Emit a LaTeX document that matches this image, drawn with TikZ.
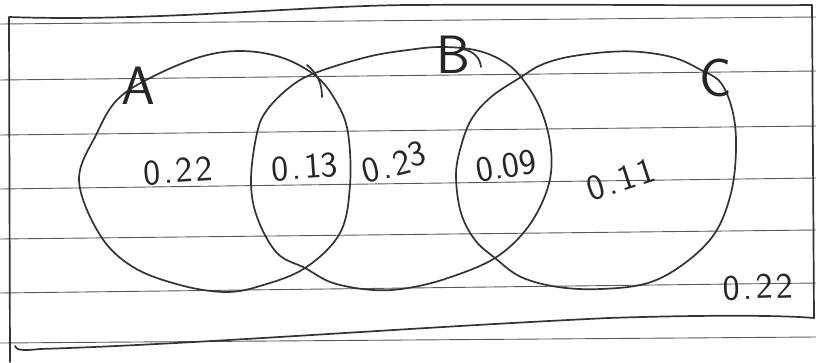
\documentclass[tikz,border=0pt]{standalone}
\newcommand{\gp}{\kern3pt}
\begin{document}
\begin{tikzpicture}[x=1pt,y=-1pt,
  ink/.style={draw=black!80,line width=1.7pt,line cap=round,line join=round},
  rule/.style={draw=black!65,line width=0.9pt},
  val/.style={font=\sffamily\fontsize{36}{36}\selectfont,text=black!85,inner sep=0pt},
  lett/.style={font=\sffamily\fontsize{54}{54}\selectfont,text=black!85,inner sep=0pt}]
\useasboundingbox (0,0) rectangle (816,362);
\fill[white] (0,0) rectangle (816,362);
% ruled lines
\foreach \a/\b in {24/17,80/71,135/126,189/178,239/230,293/283,343/337}
  \draw[rule] (0,\a) -- (816,\b);
% hand drawn frame
\draw[ink] (10,362) -- (9,17) .. controls (150,22) and (300,6) .. (408,5) .. controls (600,4) and (700,6) .. (812,5) -- (814,318);
\draw[ink] (15,346) .. controls (16,350) and (22,351) .. (40,349) .. controls (200,344) and (400,328) .. (608,318) .. controls (700,315) and (780,315) .. (814,318);
% set A
\draw[ink] plot[smooth cycle,tension=0.6] coordinates {(79,180) (97,133) (117,100) (150,78) (200,57) (242,51) (283,58) (317,77) (337,103) (348,133) (350,185) (340,233) (305,268) (260,286) (225,292) (180,285) (133,267) (100,235)};
% set B
\draw[ink] plot[smooth cycle,tension=0.6] coordinates {(251,180) (257,133) (267,110) (290,87) (315,73) (367,57) (408,50) (441,47) (475,50) (501,60) (521,77) (541,110) (551,150) (548,187) (528,227) (495,258) (448,278) (408,288) (373,290) (333,283) (305,268) (277,253) (257,217)};
% set C
\draw[ink] plot[smooth cycle,tension=0.6] coordinates {(491,97) (471,120) (460,150) (456,177) (461,213) (475,240) (495,258) (521,277) (558,287) (601,289) (648,283) (685,263) (715,233) (731,193) (736,150) (733,113) (721,83) (701,70) (675,58) (641,52) (608,52) (568,57) (541,65) (521,77)};
% extra strokes
\draw[ink] (307,65) .. controls (318,74) and (322,84) .. (322,97);
\draw[ink] (462,49) .. controls (474,51) and (480,58) .. (481,67);
% labels
\node[lett] (lA) at (138,86) {A};
\node[lett] (lB) at (453,55) {B};
\node[lett] (lC) at (716,78) {C};
\node[val,rotate=4] (v1) at (178,171) {0\gp.\gp2\gp2};
\node[val,rotate=4] (v2) at (305,167) {0\gp.\gp13};
\node[val,rotate=14] (v3) at (394,162) {0\gp.\gp2\raisebox{5pt}{3}};
\node[val,rotate=10] (v4) at (506,166) {0.09};
\node[val,rotate=18] (v5) at (621,180) {0\gp.\gp1\gp1};
\node[val,rotate=2] (v6) at (758,287) {0\gp.\gp2\gp2};
\end{tikzpicture}
\end{document}
